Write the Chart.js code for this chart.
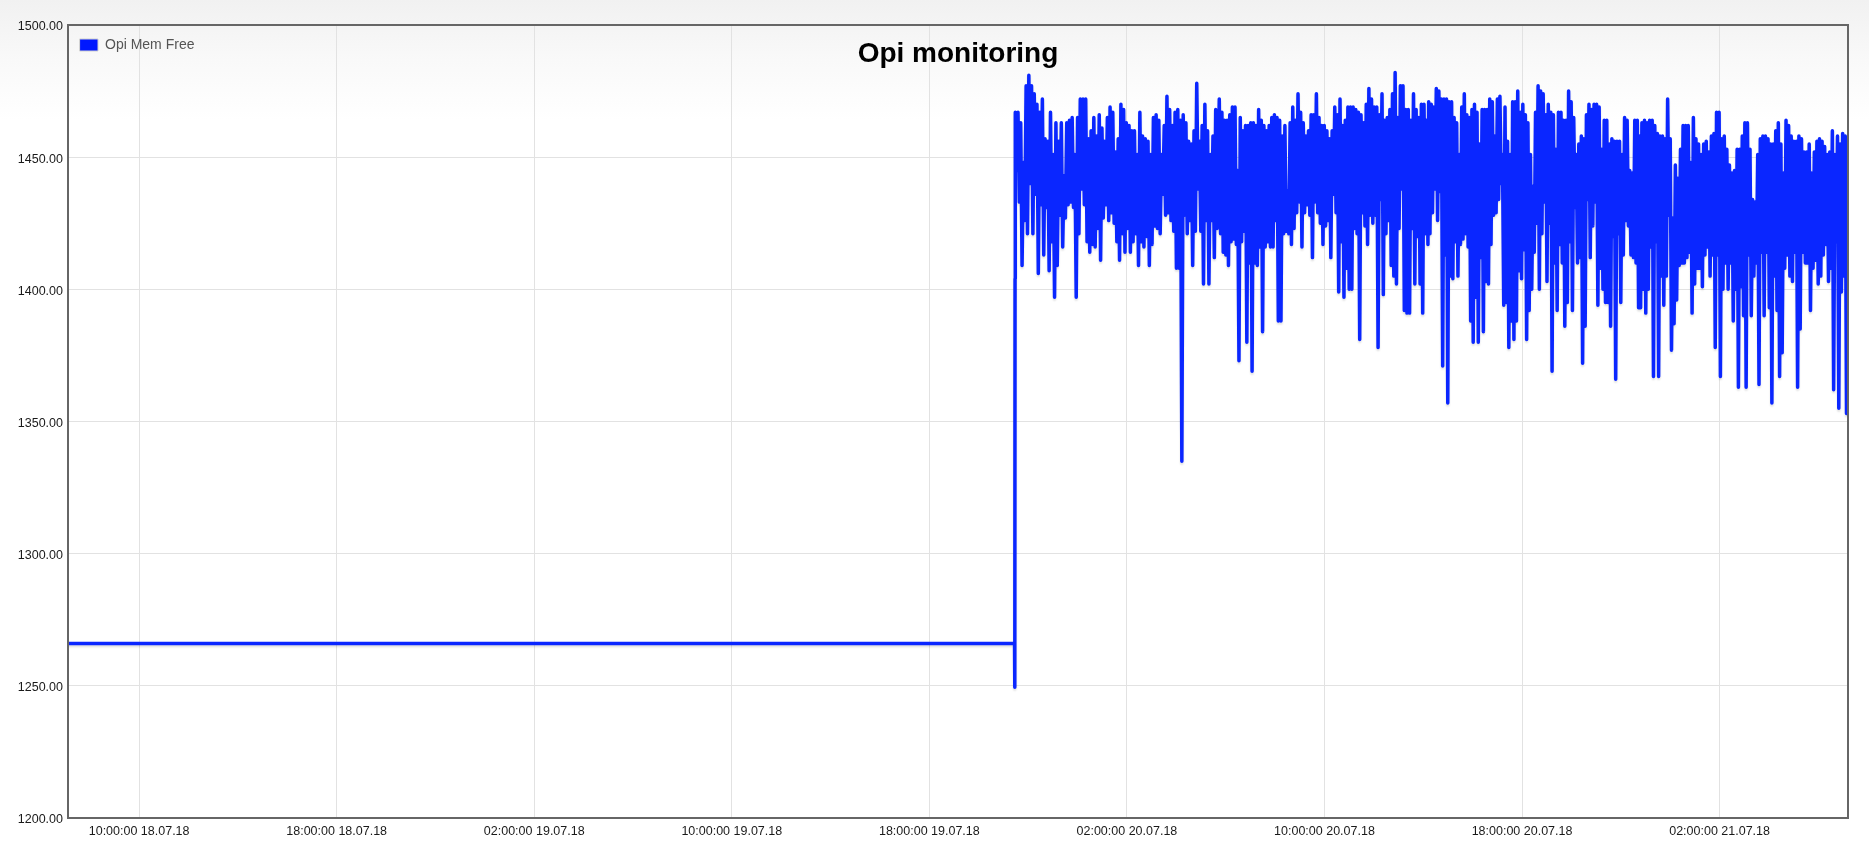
<!DOCTYPE html>
<html>
<head>
<meta charset="utf-8">
<title>Opi monitoring</title>
<script src="https://cdn.jsdelivr.net/npm/chart.js@4.4.1/dist/chart.umd.min.js"></script>
<style>
  html, body { margin: 0; padding: 0; }
  body {
    width: 1869px; height: 850px; overflow: hidden; position: relative;
    background: linear-gradient(to bottom, #f1f1f1 0px, #f9f9f9 60px, #ffffff 120px);
    font-family: Arial, "Liberation Sans", sans-serif;
  }
  #memChart { position: absolute; left: 0; top: 0; }
  #title {
    position: absolute; left: 68px; width: 1780px; top: 37px;
    text-align: center; font-weight: bold; font-size: 28px; line-height: 32px; color: #000;
  }
</style>
</head>
<body>
<canvas id="memChart" width="1869" height="850"></canvas>
<div id="title">Opi monitoring</div>
<script>
// Time is kept in hours counted from 18.07.18 00:00
const xMin = 7.12;
const xMax = 79.2;

// X axis ticks (every 8 hours)
const xTickHours = [10, 18, 26, 34, 42, 50, 58, 66, 74];
const xTickLabels = [
  '10:00:00 18.07.18', '18:00:00 18.07.18', '02:00:00 19.07.18',
  '10:00:00 19.07.18', '18:00:00 19.07.18', '02:00:00 20.07.18',
  '10:00:00 20.07.18', '18:00:00 20.07.18', '02:00:00 21.07.18'
];

// Flat part before the device came back (time, value)
const startTimes = [7.12, 45.45, 45.46, 45.47];
const startValues = [1266, 1266, 1249.5, 1404];

// First and last sample time of each block of regular samples below
const blockStart = [45.48, 53.74, 62.22, 70.75];
const blockEnd = [53.65, 62.19, 70.72, 79.14];

const memFree1 = [
  1467,1445, 1467,1433, 1463,1409, 1448,1426, 1477,1421, 1481,1440, 1477,1421, 1474,1436, 1470,1406, 1467,1432,
  1472,1413, 1457,1431, 1456,1407, 1467,1418, 1451,1397, 1463,1409, 1456,1428, 1463,1416, 1443,1427, 1463,1432,
  1464,1433, 1465,1431, 1451,1397, 1465,1421, 1472,1438, 1472,1432, 1472,1418, 1457,1414, 1460,1417, 1465,1416,
  1458,1423, 1466,1411, 1461,1427, 1456,1432, 1465,1426, 1469,1429, 1467,1425, 1452,1418, 1457,1411, 1470,1421,
  1468,1414, 1463,1423, 1462,1414, 1460,1418, 1460,1421, 1451,1409, 1467,1418, 1458,1416, 1457,1420, 1456,1409,
  1451,1417, 1465,1424, 1466,1423, 1464,1421, 1451,1436, 1462,1428, 1473,1429, 1468,1426, 1462,1422, 1467,1408,
  1468,1408, 1464,1335, 1466,1428, 1463,1421, 1456,1426, 1455,1409, 1460,1422, 1478,1438, 1456,1422, 1462,1402,
  1470,1426, 1460,1402, 1451,1426, 1458,1412, 1468,1423
];

const memFree2 = [
  1472,1421, 1467,1414, 1464,1413, 1464,1409, 1466,1418, 1469,1419, 1469,1417, 1445,1373, 1465,1418, 1460,1422,
  1462,1380, 1462,1410, 1463,1369, 1463,1410, 1462,1409, 1468,1416, 1464,1384, 1462,1416, 1460,1418, 1462,1416,
  1465,1416, 1466,1426, 1465,1388, 1464,1388, 1458,1421, 1462,1422, 1437,1421, 1463,1417, 1469,1423, 1464,1429,
  1474,1433, 1467,1416, 1463,1429, 1458,1432, 1460,1428, 1466,1412, 1466,1433, 1474,1429, 1465,1425, 1462,1417,
  1462,1424, 1460,1426, 1457,1412, 1460,1436, 1469,1429, 1466,1399, 1472,1418, 1462,1397, 1464,1408, 1469,1400,
  1469,1400, 1469,1423, 1468,1421, 1467,1381, 1466,1429, 1463,1424, 1470,1417, 1476,1428, 1472,1425, 1469,1428,
  1469,1378, 1466,1434, 1474,1398, 1464,1421, 1465,1426, 1468,1409, 1474,1405, 1482,1402, 1465,1423, 1477,1438,
  1477,1392, 1468,1391, 1468,1391, 1464,1423, 1474,1402, 1468,1420, 1465,1402, 1470,1391, 1470,1421, 1464,1417
];

const memFree3 = [
  1471,1421, 1470,1429, 1469,1438, 1476,1426, 1475,1437, 1472,1371, 1472,1413, 1472,1357, 1471,1405, 1471,1404,
  1465,1418, 1463,1405, 1451,1417, 1469,1419, 1474,1421, 1466,1416, 1465,1388, 1468,1380, 1470,1397, 1467,1380,
  1455,1412, 1468,1384, 1468,1403, 1468,1402, 1472,1417, 1471,1428, 1458,1429, 1472,1434, 1473,1440, 1451,1394,
  1469,1395, 1456,1378, 1451,1388, 1471,1381, 1471,1388, 1475,1407, 1467,1404, 1470,1415, 1466,1381, 1463,1392,
  1451,1400, 1439,1414, 1467,1425, 1477,1400, 1475,1421, 1474,1433, 1466,1403, 1470,1425, 1467,1369, 1466,1410,
  1453,1392, 1467,1417, 1467,1410, 1464,1386, 1464,1395, 1475,1418, 1471,1392, 1465,1431, 1451,1410, 1455,1412,
  1458,1372, 1457,1386, 1466,1434, 1470,1412, 1468,1424, 1470,1433, 1470,1394, 1469,1408, 1453,1400, 1464,1395,
  1464,1395, 1455,1386, 1457,1420, 1456,1366, 1456,1421, 1456,1395, 1451,1413, 1465,1426, 1464,1424, 1445,1413,
  1444,1412, 1464,1410, 1464,1393
];

const memFree4 = [
  1458,1393, 1463,1400, 1464,1391, 1463,1400, 1464,1416, 1464,1367, 1462,1418, 1459,1367, 1458,1405, 1458,1394,
  1457,1405, 1472,1428, 1457,1377, 1427,1387, 1447,1396, 1442,1409, 1453,1410, 1462,1410, 1462,1412, 1462,1414,
  1448,1391, 1465,1402, 1457,1408, 1455,1408, 1451,1401, 1455,1413, 1456,1416, 1452,1405, 1458,1413, 1459,1378,
  1467,1413, 1467,1367, 1457,1400, 1458,1410, 1453,1400, 1447,1410, 1444,1388, 1445,1400, 1453,1363, 1453,1401,
  1458,1390, 1463,1363, 1463,1413, 1453,1390, 1434,1405, 1433,1410, 1451,1364, 1457,1414, 1458,1390, 1458,1414,
  1457,1393, 1455,1357, 1455,1405, 1460,1392, 1463,1367, 1455,1376, 1444,1408, 1464,1413, 1462,1405, 1458,1403,
  1456,1414, 1456,1363, 1458,1385, 1457,1414, 1452,1410, 1452,1410, 1455,1392, 1444,1408, 1452,1411, 1456,1402,
  1457,1405, 1456,1413, 1454,1417, 1451,1403, 1452,1408, 1460,1362, 1451,1418, 1458,1355, 1455,1399, 1459,1405,
  1458,1353
];

// Build the point list for the chart
const memBlocks = [memFree1, memFree2, memFree3, memFree4];
let memPoints = startTimes.map((t, i) => ({ x: t, y: startValues[i] }));
memBlocks.forEach((block, b) => {
  const step = (blockEnd[b] - blockStart[b]) / (block.length - 1);
  block.forEach((v, i) => {
    memPoints.push({ x: blockStart[b] + i * step, y: v });
  });
});

const axisFamily = 'Arial, "Liberation Sans", sans-serif';

// Legend inside the plot, soft shadow under the line, frame around the plot
const plotFrame = {
  id: 'plotFrame',
  afterLayout(chart) {
    if (chart.legend) {
      chart.legend.top = chart.chartArea.top + 1;
    }
  },
  beforeDatasetsDraw(chart) {
    const ctx = chart.ctx;
    ctx.save();
    ctx.shadowColor = 'rgba(0, 0, 0, 0.12)';
    ctx.shadowOffsetY = 2;
    ctx.shadowBlur = 2;
  },
  afterDatasetsDraw(chart) {
    chart.ctx.restore();
  },
  afterDraw(chart) {
    const { ctx, chartArea } = chart;
    ctx.save();
    ctx.strokeStyle = '#666666';
    ctx.lineWidth = 2;
    ctx.strokeRect(chartArea.left, chartArea.top, chartArea.right - chartArea.left, chartArea.bottom - chartArea.top);
    ctx.restore();
  }
};

const dataMem = {
  datasets: [{
    label: 'Opi Mem Free',
    data: memPoints,
    borderColor: '#0a26ff',
    backgroundColor: '#0a26ff',
    borderWidth: 3.5,
    borderJoinStyle: 'round',
    borderCapStyle: 'round',
    pointRadius: 0,
    tension: 0,
    fill: false
  }]
};

const configMem = {
  type: 'line',
  data: dataMem,
  plugins: [plotFrame],
  options: {
    responsive: false,
    animation: false,
    events: [],
    layout: { padding: { top: 25, right: 21, left: 0, bottom: 0 } },
    plugins: {
      title: { display: false },
      tooltip: { enabled: false },
      legend: {
        position: 'chartArea',
        align: 'start',
        labels: {
          boxWidth: 18,
          boxHeight: 12,
          padding: 12,
          color: '#555555',
          font: { family: axisFamily, size: 14 },
          generateLabels: function (chart) {
            const items = Chart.defaults.plugins.legend.labels.generateLabels(chart);
            items.forEach((it) => {
              it.fillStyle = '#0018ff';
              it.strokeStyle = '#cfcfcf';
              it.lineWidth = 1;
            });
            return items;
          }
        }
      }
    },
    scales: {
      x: {
        type: 'linear',
        min: xMin,
        max: xMax,
        afterBuildTicks: function (scale) {
          scale.ticks = xTickHours.map((h) => ({ value: h }));
        },
        afterFit: function (scale) { scale.height = 32; },
        grid: { color: '#e2e2e2', lineWidth: 1, drawTicks: false },
        border: { display: false },
        ticks: {
          padding: 6,
          maxRotation: 0,
          autoSkip: false,
          color: '#1a1a1a',
          font: { family: axisFamily, size: 12.5 },
          callback: function (value, index) {
            return xTickLabels[index];
          }
        }
      },
      y: {
        min: 1200,
        max: 1500,
        afterFit: function (scale) { scale.width = 68; },
        grid: { color: '#e2e2e2', lineWidth: 1, drawTicks: false },
        border: { display: false },
        ticks: {
          stepSize: 50,
          padding: 5,
          labelOffset: 2,
          color: '#1a1a1a',
          font: { family: axisFamily, size: 12.5 },
          callback: function (value) {
            return value.toFixed(2);
          }
        }
      }
    }
  }
};

// render the chart
const memChart = new Chart(
  document.getElementById('memChart'),
  configMem
);
</script>
</body>
</html>
